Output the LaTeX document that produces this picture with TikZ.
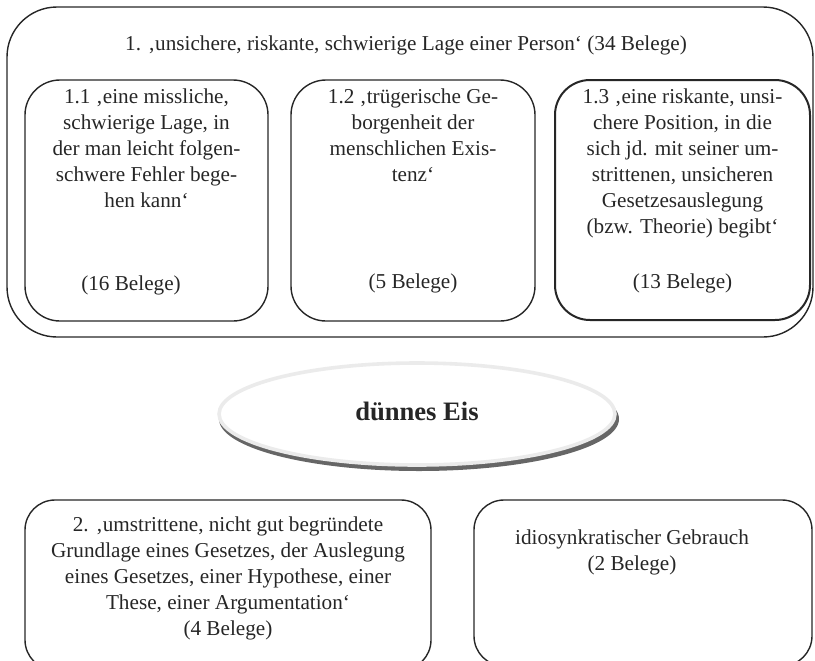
\documentclass[tikz,border=0pt]{standalone}
\usepackage{fontspec}
\setmainfont{Liberation Serif}
\usetikzlibrary{shapes.geometric}
\begin{document}
\begin{tikzpicture}[x=0.5pt,y=-0.5pt,
  every node/.style={font=\fontsize{10.6}{13}\selectfont, text=black!85, align=center},
  outerbox/.style={draw=black!85, line width=0.7pt, rounded corners=25pt, inner sep=0pt},
  subbox/.style={draw=black!85, line width=0.7pt, rounded corners=17.5pt, inner sep=0pt},
  lowbox/.style={draw=black!85, line width=0.7pt, rounded corners=15pt, inner sep=0pt},
  txt/.style={inner sep=0pt, anchor=north},
]
\useasboundingbox (0,0) rectangle (815,660);
\clip (0,0) rectangle (815,660);

% sense 1 with its three sub-senses
\node[outerbox, minimum width=403pt, minimum height=165pt] (s1) at (410,172) {};
\node[txt] (t1) at (406,35) {1. ‚unsichere, riskante, schwierige Lage einer Person‘ (34 Belege)};

\node[subbox, minimum width=121.5pt, minimum height=120.5pt] (s11) at (146.5,200.5) {};
\node[txt] (t11) at (146.5,88) {1.1 ‚eine missliche,\\schwierige Lage, in\\der man leicht folgen-\\schwere Fehler bege-\\hen kann‘};
\node[txt] (b11) at (131,275) {(16 Belege)};

\node[subbox, minimum width=122pt, minimum height=120.5pt] (s12) at (413,200.5) {};
\node[txt] (t12) at (413,88) {1.2 ‚trügerische Ge-\\borgenheit der\\menschlichen Exis-\\tenz‘};
\node[txt] (b12) at (413,273) {(5 Belege)};

\node[subbox, line width=1pt, minimum width=127.5pt, minimum height=120pt] (s13) at (682.5,200) {};
\node[txt] (t13) at (682.5,88) {1.3 ‚eine riskante, unsi-\\chere Position, in die\\sich jd. mit seiner um-\\strittenen, unsicheren\\Gesetzesauslegung\\(bzw. Theorie) begibt‘};
\node[txt] (b13) at (682.5,273) {(13 Belege)};

% central lemma with its drop shadow
\fill[black!60] (419,419) ellipse [x radius=200, y radius=52];
\node[ellipse, fill=white, draw=black!8, line width=1.8pt, minimum width=198pt, minimum height=51pt, inner sep=0pt] (lemma) at (417,414) {};
\node[font=\fontsize{13.3}{16}\selectfont\bfseries, text=black!85] (lemmatext) at (417,411) {dünnes Eis};

% sense 2 and idiosyncratic use
\node[lowbox, minimum width=203pt, minimum height=85pt] (s2) at (228,585) {};
\node[txt] (t2) at (228,516) {2. ‚umstrittene, nicht gut begründete\\Grundlage eines Gesetzes, der Auslegung\\eines Gesetzes, einer Hypothese, einer\\These, einer Argumentation‘\\(4 Belege)};

\node[lowbox, minimum width=169pt, minimum height=83pt] (sx) at (643,583) {};
\node[txt] (tx) at (632,529) {idiosynkratischer Gebrauch\\(2 Belege)};
\end{tikzpicture}
\end{document}
